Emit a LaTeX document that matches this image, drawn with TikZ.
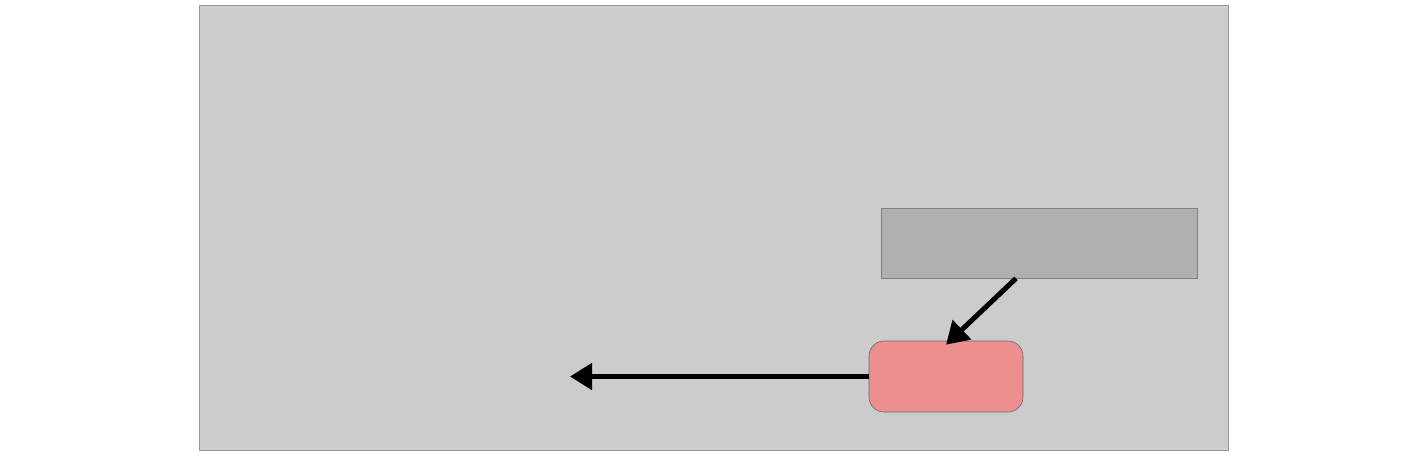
\documentclass[tikz,border=0pt]{standalone}
\usetikzlibrary{arrows.meta}
\definecolor{bgfill}{HTML}{CCCCCC}
\definecolor{bgline}{HTML}{999999}
\definecolor{boxfill}{HTML}{B0B0B0}
\definecolor{boxline}{HTML}{808080}
\definecolor{pinkfill}{HTML}{EE8F8F}
\tikzset{
  panel/.style={draw=bgline, fill=bgfill, line width=0.8pt, inner sep=0pt, minimum width=1029pt, minimum height=445pt},
  greybox/.style={draw=boxline, fill=boxfill, line width=0.8pt, inner sep=0pt, minimum width=316pt, minimum height=70pt},
  pinkbox/.style={draw=boxline!80!black, fill=pinkfill, line width=0.6pt, rounded corners=15pt, inner sep=0pt, minimum width=154pt, minimum height=71pt},
  conn/.style={line width=5pt, -{Triangle[length=22pt,width=26pt]}}
}
\begin{document}
\begin{tikzpicture}[x=1pt,y=-1pt]
\useasboundingbox (0,0) rectangle (1422,456);
\node[panel] (panel) at (713.5,227.5) {};
\node[greybox] (dark) at (1039,243) {};
\node[pinkbox] (pink) at (946,376.5) {};
\coordinate (free) at (570,376.5);
\draw[conn] ([xshift=-23pt]dark.south) -- ([yshift=-4pt]pink.north);
\draw[conn] (pink.west) -- (free);
\end{tikzpicture}
\end{document}
